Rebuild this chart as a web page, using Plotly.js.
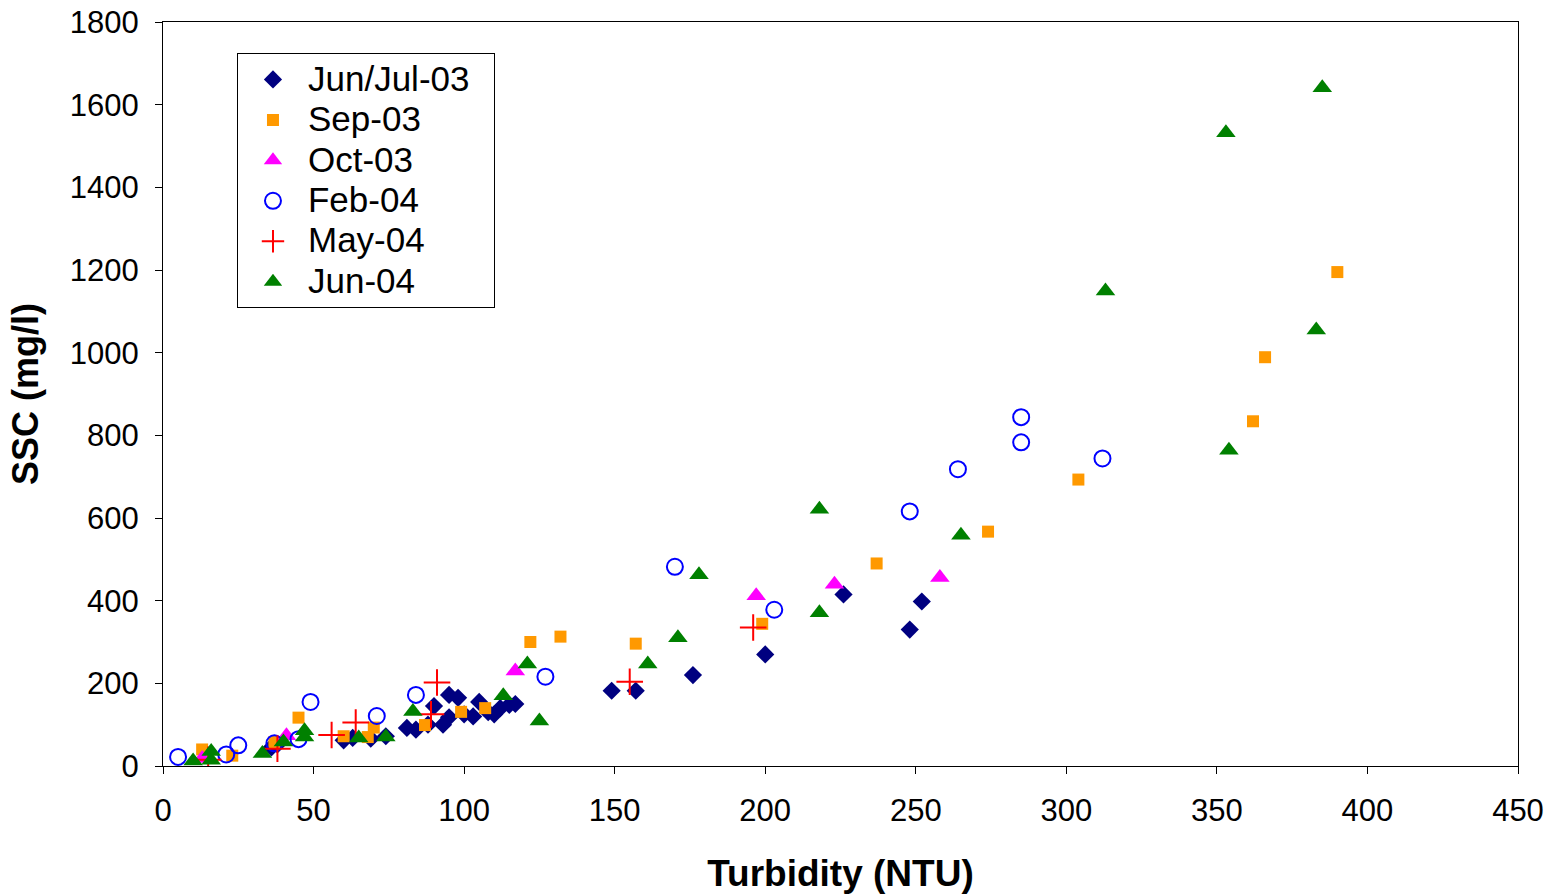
<!DOCTYPE html>
<html>
<head>
<meta charset="utf-8">
<script src="https://cdn.plot.ly/plotly-3.0.1.min.js"></script>
<style>html,body{margin:0;padding:0;background:#fff;}#chart{width:1552px;height:895px;}</style>
</head>
<body>
<div id="chart"></div>
<script>
// Jun/Jul-03
var junJul03X = [36,38,60,63,69,74,81,84,88,90,93,95,95,98,100,103,105,108,110,112,115,117,149,157,176,200,226,248,252];
var junJul03Y = [45,52,62,68,66,72,92,88,100,145,100,118,172,165,125,120,155,130,125,140,148,150,182,182,220,270,415,330,398];
// Sep-03
var sep03X = [13,23,37,45,60,68,70,87,99,107,122,132,157,199,237,274,304,362,366,390];
var sep03Y = [40,25,58,117,72,70,93,99,131,140,300,313,296,344,490,567,693,834,989,1195];
// Oct-03
var oct03X = [13,41,117,197,223,258];
var oct03Y = [18,73,230,412,440,456];
// Feb-04
var feb04X = [5,21,25,37,45,49,71,84,127,170,203,248,264,285,285,312];
var feb04Y = [22,28,50,55,65,155,121,172,216,482,378,616,718,783,844,744];
// May-04
var may04X = [15,38,56,64,89,91,155,196];
var may04Y = [15,42,75,105,125,202,204,335];
// Jun-04
var jun04X = [10,16,16,33,40,47,47,65,74,83,113,121,125,161,171,178,218,218,265,313,353,354,383,385];
var jun04Y = [12,14,35,30,58,70,85,68,70,132,170,247,109,247,310,463,371,621,558,1149,1532,764,1055,1641];

var seriesNames = ["Jun/Jul-03","Sep-03","Oct-03","Feb-04","May-04","Jun-04"];
function legName(s, pad) { return '<span style="font-size:35px">' + s + (pad || '') + '</span>'; }

var traces = [
  {x: junJul03X, y: junJul03Y, name: legName(seriesNames[0], '&nbsp;&nbsp;'), mode: "markers", type: "scatter",
   marker: {symbol: "diamond", size: 14, color: "#000080"}},
  {x: sep03X, y: sep03Y, name: legName(seriesNames[1]), mode: "markers", type: "scatter",
   marker: {symbol: "square", size: 12, color: "#FF9900"}},
  {x: oct03X, y: oct03Y, name: legName(seriesNames[2]), mode: "markers", type: "scatter",
   marker: {symbol: "triangle-up", size: 17, color: "#FF00FF"}},
  {x: feb04X, y: feb04Y, name: legName(seriesNames[3]), mode: "markers", type: "scatter",
   marker: {symbol: "circle-open", size: 16, color: "#0000FF", line: {width: 2, color: "#0000FF"}}},
  {x: may04X, y: may04Y, name: legName(seriesNames[4]), mode: "markers", type: "scatter",
   marker: {symbol: "cross-thin-open", size: 19, color: "#FF0000", line: {width: 2, color: "#FF0000"}}},
  {x: jun04X, y: jun04Y, name: legName(seriesNames[5]), mode: "markers", type: "scatter",
   marker: {symbol: "triangle-up", size: 17, color: "#008000"}}
];

var layout = {
  width: 1552, height: 895,
  margin: {l: 163, r: 34, t: 22, b: 129},
  paper_bgcolor: "#fff", plot_bgcolor: "#fff",
  font: {family: "Arial, 'Liberation Sans', sans-serif", color: "#000"},
  showlegend: true,
  legend: {x: 0.0546, y: 0.958, xanchor: "left", yanchor: "top",
           bordercolor: "#000", borderwidth: 1, bgcolor: "#fff",
           font: {size: 28.8, family: "Arial, 'Liberation Sans', sans-serif"},
           tracegroupgap: 0, itemwidth: 60},
  xaxis: {range: [0, 450], dtick: 50, tick0: 0, showgrid: false, zeroline: false,
          showline: true, linecolor: "#000", linewidth: 1, mirror: true,
          ticks: "outside", ticklen: 7, tickcolor: "#000",
          tickfont: {size: 31}, ticklabelstandoff: 10,
          title: {text: "<b>Turbidity (NTU)</b>", font: {size: 37}, standoff: 32}},
  yaxis: {range: [0, 1800], dtick: 200, tick0: 0, showgrid: false, zeroline: false,
          showline: true, linecolor: "#000", linewidth: 1, mirror: true,
          ticks: "outside", ticklen: 7, tickcolor: "#000",
          tickfont: {size: 31}, ticklabelstandoff: 10,
          title: {text: "<b>SSC (mg/l)</b>", font: {size: 36}, standoff: 20}}
};

Plotly.newPlot("chart", traces, layout, {displayModeBar: false, staticPlot: true});
</script>
</body>
</html>
